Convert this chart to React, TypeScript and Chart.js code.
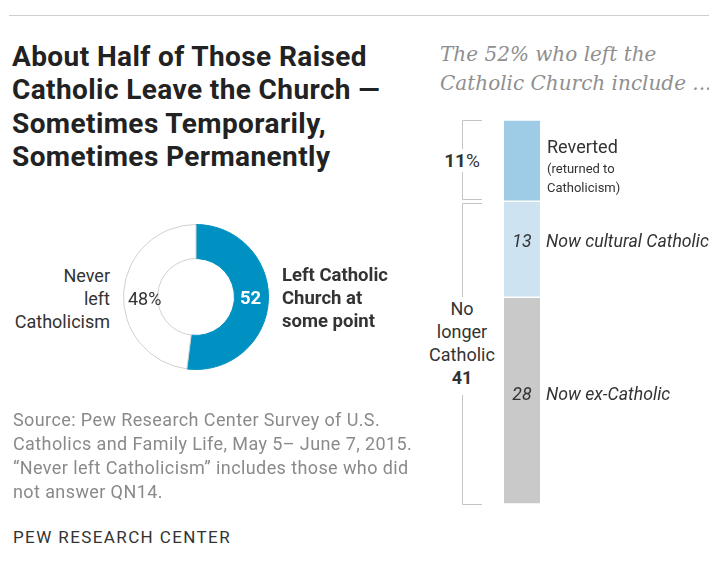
import React, { useEffect, useRef } from 'react';
import { Chart, registerables } from 'chart.js';

Chart.register(...registerables);

// ---- Data ----
const donutLabels = ['Left Catholic Church at some point', 'Never left Catholicism'];
const donutValues = [52, 48];
const donutColors = ['#0091c3', '#ffffff'];

const barCategories = ['Left the Catholic Church'];
const seriesNames = ['Now ex-Catholic', 'Now cultural Catholic', 'Reverted'];
const exCatholic = [28];
const culturalCatholic = [13];
const reverted = [11];
const seriesColors = ['#c9c9c9', '#cde3f1', '#9ecbe5'];

const FONT = 'Roboto, "Liberation Sans", sans-serif';

const bracketPlugin = {
  id: 'brackets',
  afterDatasetsDraw(chart: any) {
    const y = chart.scales.y;
    const ctx = chart.ctx;
    const total = reverted[0] + culturalCatholic[0] + exCatholic[0];
    const noLonger = culturalCatholic[0] + exCatholic[0];
    const yTop = y.getPixelForValue(total);
    const yMid = y.getPixelForValue(noLonger);
    const yBot = y.getPixelForValue(0);
    const x1 = Math.round(chart.chartArea.left - 42) + 0.5;
    const x2 = chart.chartArea.left - 22;
    ctx.save();
    ctx.strokeStyle = '#c4c4c4';
    ctx.lineWidth = 1;
    const br = (a: number, b: number) => {
      ctx.beginPath();
      ctx.moveTo(x2, Math.round(a) + 0.5);
      ctx.lineTo(x1, Math.round(a) + 0.5);
      ctx.lineTo(x1, Math.round(b) + 0.5);
      ctx.lineTo(x2, Math.round(b) + 0.5);
      ctx.stroke();
    };
    br(yTop, yMid - 2);
    br(yMid + 2, yBot);
    ctx.restore();
  },
};

function Donut() {
  const ref = useRef<HTMLCanvasElement>(null);
  useEffect(() => {
    const chart = new Chart(ref.current!, {
      type: 'doughnut',
      data: {
        labels: donutLabels,
        datasets: [
          {
            data: donutValues,
            backgroundColor: donutColors,
            borderColor: ['#0091c3', '#d0d0d0'],
            borderWidth: 1,
          },
        ],
      },
      options: {
        responsive: false,
        animation: false,
        devicePixelRatio: 1,
        cutout: '53%',
        events: [],
        layout: { padding: 1 },
        plugins: { legend: { display: false }, tooltip: { enabled: false } },
      },
    });
    return () => chart.destroy();
  }, []);
  return (
    <canvas
      ref={ref}
      width={148}
      height={148}
      style={{ position: 'absolute', left: 122, top: 223, width: 148, height: 148 }}
    />
  );
}

function StackBar() {
  const ref = useRef<HTMLCanvasElement>(null);
  useEffect(() => {
    const series = [exCatholic, culturalCatholic, reverted];
    const chart = new Chart(ref.current!, {
      type: 'bar',
      data: {
        labels: barCategories,
        datasets: series.map((d, i) => ({
          label: seriesNames[i],
          data: d,
          backgroundColor: seriesColors[i],
          borderColor: '#ffffff',
          borderWidth: { top: 1, bottom: 1, left: 0, right: 0 },
          borderSkipped: false,
          barPercentage: 1,
          categoryPercentage: 1,
        })),
      },
      options: {
        responsive: false,
        animation: false,
        devicePixelRatio: 1,
        events: [],
        layout: { padding: { left: 84, right: 169, top: 20, bottom: 16 } },
        scales: {
          x: { display: false, stacked: true },
          y: { display: false, stacked: true, min: 0, max: 52 },
        },
        plugins: { legend: { display: false }, tooltip: { enabled: false } },
      },
      plugins: [bracketPlugin],
    });
    return () => chart.destroy();
  }, []);
  return (
    <canvas
      ref={ref}
      width={289}
      height={420}
      style={{ position: 'absolute', left: 420, top: 100, width: 289, height: 420 }}
    />
  );
}

const abs = (s: React.CSSProperties): React.CSSProperties => ({ position: 'absolute', margin: 0, ...s });

export default function App() {
  return (
    <div
      style={{
        position: 'absolute',
        left: 0,
        top: 0,
        width: 709,
        height: 563,
        background: '#fff',
        overflow: 'hidden',
        fontFamily: FONT,
        color: '#333',
      }}
    >
      <div style={abs({ left: 9, top: 15, width: 700, height: 0, borderTop: '1.5px solid #cfcfcf' })} />

      <div
        style={abs({
          left: 12,
          top: 39.5,
          width: 420,
          whiteSpace: 'nowrap',
          fontSize: 28,
          lineHeight: '33.5px',
          fontWeight: 700,
          color: '#222',
          letterSpacing: 0.4,
        })}
      >
        About Half of Those Raised
        <br />
        Catholic Leave the Church —
        <br />
        Sometimes Temporarily,
        <br />
        Sometimes Permanently
      </div>

      <Donut />

      <div style={abs({ right: 599, top: 264, fontSize: 18, lineHeight: '23px', textAlign: 'right' })}>
        Never
        <br />
        left
        <br />
        Catholicism
      </div>
      <div style={abs({ left: 128, top: 287, fontSize: 18, lineHeight: '23px' })}>{donutValues[1]}%</div>
      <div style={abs({ left: 240, top: 287, fontSize: 18.5, lineHeight: '23px', fontWeight: 700, color: '#fff' })}>
        {donutValues[0]}
      </div>
      <div style={abs({ left: 282, top: 264, fontSize: 18.5, lineHeight: '23px', fontWeight: 700 })}>
        Left Catholic
        <br />
        Church at
        <br />
        some point
      </div>

      <div
        style={abs({
          left: 440,
          top: 40,
          width: 300,
          whiteSpace: 'nowrap',
          fontFamily: '"DejaVu Serif", "Liberation Serif", serif',
          fontStyle: 'italic',
          fontSize: 20,
          lineHeight: '29px',
          color: '#8f8f8f',
        })}
      >
        The {donutValues[0]}% who left the
        <br />
        Catholic Church include ...
      </div>

      <StackBar />

      <div
        style={abs({
          left: 441,
          top: 149,
          width: 42,
          textAlign: 'center',
          fontSize: 19,
          lineHeight: '23px',
          background: '#fff',
        })}
      >
        <b>{reverted[0]}</b>%
      </div>
      <div style={abs({ left: 547, top: 135, fontSize: 18, lineHeight: '23px' })}>Reverted</div>
      <div style={abs({ left: 547, top: 159, fontSize: 13, lineHeight: '19px' })}>
        (returned to
        <br />
        Catholicism)
      </div>

      <div
        style={abs({
          left: 422,
          top: 297,
          width: 80,
          textAlign: 'center',
          fontSize: 18,
          lineHeight: '23px',
          background: '#fff',
          paddingBottom: 6,
        })}
      >
        No
        <br />
        longer
        <br />
        Catholic
        <br />
        <b>{culturalCatholic[0] + exCatholic[0]}</b>
      </div>

      <div style={abs({ left: 504, width: 36, textAlign: 'center', top: 230, fontSize: 17.7, lineHeight: '22px', fontStyle: 'italic' })}>
        {culturalCatholic[0]}
      </div>
      <div style={abs({ left: 546, top: 230, fontSize: 17.7, lineHeight: '22px', fontStyle: 'italic', whiteSpace: 'nowrap' })}>
        {seriesNames[1]}
      </div>
      <div style={abs({ left: 504, width: 36, textAlign: 'center', top: 383, fontSize: 17.7, lineHeight: '22px', fontStyle: 'italic' })}>
        {exCatholic[0]}
      </div>
      <div style={abs({ left: 546, top: 383, fontSize: 17.7, lineHeight: '22px', fontStyle: 'italic', whiteSpace: 'nowrap' })}>
        {seriesNames[0]}
      </div>

      <div
        style={abs({
          left: 13,
          top: 407.5,
          width: 430,
          whiteSpace: 'nowrap',
          fontSize: 18,
          lineHeight: '24px',
          color: '#8a8a8a',
          letterSpacing: 0.4,
        })}
      >
        Source: Pew Research Center Survey of U.S.
        <br />
        Catholics and Family Life, May 5– June 7, 2015.
        <br />
        “Never left Catholicism” includes those who did
        <br />
        not answer QN14.
      </div>
      <div style={abs({ left: 13, top: 526, fontSize: 17, lineHeight: '22px', color: '#333', letterSpacing: 1.4 })}>
        PEW RESEARCH CENTER
      </div>
    </div>
  );
}
